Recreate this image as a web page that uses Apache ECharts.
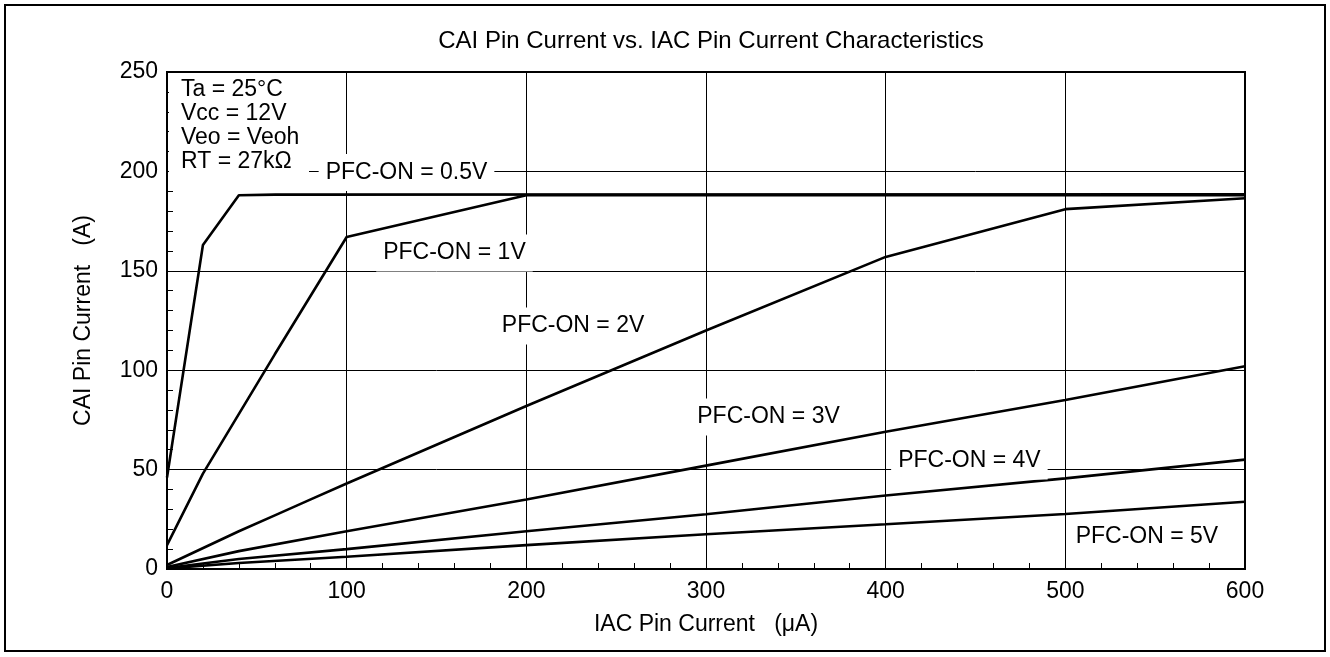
<!DOCTYPE html>
<html><head><meta charset="utf-8">
<script src="https://cdn.jsdelivr.net/npm/echarts@6/dist/echarts.min.js"></script>
<style>html,body{margin:0;padding:0;background:#fff}#c{width:1330px;height:657px}</style>
</head><body><div id="c"></div>
<script>
const xTicks = [0, 100, 200, 300, 400, 500, 600];
const yTicks = [0, 50, 100, 150, 200, 250];
const s05 = [[0,46],[20,163],[40,188],[60,188.3],[600,188.5]];
const s1  = [[0,12],[20,48],[60,108],[100,167],[200,188],[600,188]];
const s2  = [[0,2],[40,19],[60,27],[80,35],[100,43],[200,82],[300,120],[400,157],[500,181],[600,186.5]];
const s3  = [[0,1],[40,9],[100,19],[200,35],[300,52],[400,69],[500,85],[600,102]];
const s4  = [[0,0.5],[40,5],[100,10],[200,19],[300,27.5],[400,37],[500,45.6],[600,55]];
const s5  = [[0,0.3],[40,3],[100,6.2],[200,12],[300,17.5],[400,22.5],[500,27.7],[600,33.8]];
const seriesNames = ['PFC-ON = 0.5V','PFC-ON = 1V','PFC-ON = 2V','PFC-ON = 3V','PFC-ON = 4V','PFC-ON = 5V'];
const labelCoords = [[133.3,199.5],[160,159],[226,122.2],[334.8,76.5],[446.6,54.3],[545.4,16.3]];
const conditions = ['Ta = 25°C','Vcc = 12V','Veo = Veoh','RT = 27kΩ'];

const FONT = 'Liberation Sans, Arial, sans-serif';
const FS = 23;
const W = 1330, H = 657;
const GL = 167, GR = 85, GT = 72, GB = 88;
const allData = [s05, s1, s2, s3, s4, s5];
const series = allData.map((d, i) => ({
  type: 'line', name: seriesNames[i], data: d, symbol: 'none', silent: true,
  xAxisIndex: 0, yAxisIndex: 0,
  lineStyle: {color: '#000', width: 2.6}, z: 3,
  markPoint: {
    symbol: 'rect', symbolSize: 0, silent: true,
    data: [{coord: labelCoords[i], value: seriesNames[i]}],
    label: {show: true, position: 'inside', formatter: seriesNames[i], color: '#000',
      fontFamily: FONT, fontSize: FS, lineHeight: 23, backgroundColor: '#fff', padding: [7, 7]}
  }
}));

const minorOnly = {
  axisLine: {show: false, onZero: false}, axisLabel: {show: false}, splitLine: {show: false},
  axisTick: {show: false},
  minorTick: {show: true, splitNumber: 5, length: 6, lineStyle: {color: '#000', width: 1}}
};
const chart = echarts.init(document.getElementById('c'), null, {renderer: 'canvas'});
chart.setOption({
  animation: false,
  backgroundColor: '#fff',
  title: {text: 'CAI Pin Current vs. IAC Pin Current Characteristics', left: 706, textAlign: 'center', top: 24,
    textStyle: {fontFamily: FONT, fontSize: 24, fontWeight: 'normal', color: '#000'}},
  grid: [
    {left: GL, right: GR, top: GT, bottom: GB, show: true, borderColor: '#000', borderWidth: 2, backgroundColor: 'transparent'},
    {left: GL - 60, right: W - GL, top: GT, bottom: GB, show: false},
    {left: GL, right: GR, top: H - GB, height: 20, show: false}
  ],
  xAxis: [{type: 'value', gridIndex: 0, min: 0, max: 600, interval: 100,
    name: 'IAC Pin Current   (μA)', nameLocation: 'middle', nameGap: 44,
    nameTextStyle: {fontFamily: FONT, fontSize: FS, color: '#000'},
    axisLine: {show: true, lineStyle: {color: '#000', width: 2}},
    axisTick: {show: false},
    axisLabel: {fontFamily: FONT, fontSize: FS, color: '#000', margin: 11},
    splitLine: {show: true, lineStyle: {color: '#000', width: 1}}
  },
  {type: 'value', gridIndex: 1, min: 0, max: 1, show: false, axisLine: {onZero: false}},
  Object.assign({type: 'value', gridIndex: 2, min: 0, max: 600, interval: 100, position: 'top'}, minorOnly)],
  yAxis: [{type: 'value', gridIndex: 0, min: 0, max: 250, interval: 50,
    name: 'CAI Pin Current   (A)', nameLocation: 'middle', nameGap: 72,
    nameTextStyle: {fontFamily: FONT, fontSize: FS, color: '#000'},
    axisLine: {show: true, lineStyle: {color: '#000', width: 2}},
    axisTick: {show: false},
    axisLabel: {fontFamily: FONT, fontSize: FS, color: '#000', margin: 9},
    splitLine: {show: true, lineStyle: {color: '#000', width: 1}}
  },
  Object.assign({type: 'value', gridIndex: 1, min: 0, max: 250, interval: 50, position: 'right'}, minorOnly),
  {type: 'value', gridIndex: 2, min: 0, max: 1, show: false, axisLine: {onZero: false}}],
  series: series,
  graphic: [
    {type: 'rect', shape: {x: 5, y: 5, width: 1320, height: 646}, style: {fill: 'none', stroke: '#000', lineWidth: 2}, silent: true, z: 100},
    {type: 'rect', shape: {x: 169, y: 74, width: 140, height: 106}, style: {fill: '#fff'}, silent: true, z: 50},
    {type: 'text', left: 181, top: 78, z: 51, silent: true,
      style: {text: conditions.join('\n'), fontFamily: FONT, fontSize: FS, lineHeight: 24, fill: '#000'}}
  ]
});
</script></body></html>
